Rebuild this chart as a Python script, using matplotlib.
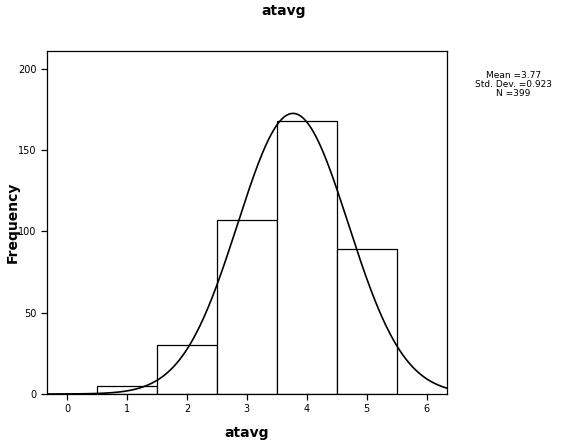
import matplotlib.pyplot as plt
import numpy as np

# bin centres and counts
centers = [1, 2, 3, 4, 5]
counts = [5, 30, 107, 168, 89]
mean = 3.77
std = 0.923
n = 399

fig = plt.figure(figsize=(5.67, 4.45), dpi=100)
ax = fig.add_axes([0.0829, 0.1146, 0.7055, 0.7708])

ax.bar(centers, counts, width=1.0, color="white", edgecolor="black", linewidth=0.9)

xs = np.linspace(-0.34, 6.34, 400)
ys = n * 1.0 / (std * np.sqrt(2 * np.pi)) * np.exp(-0.5 * ((xs - mean) / std) ** 2)
ax.plot(xs, ys, color="black", linewidth=1.2)

ax.set_xlim(-0.334, 6.34)
ax.set_ylim(0, 210.8)
ax.set_xticks(range(0, 7))
ax.set_yticks([0, 50, 100, 150, 200])
ax.tick_params(labelsize=7, length=4, width=0.9, direction="out")
for s in ax.spines.values():
    s.set_linewidth(0.9)

ax.set_xlabel("atavg", fontsize=10, fontweight="bold", labelpad=8)
fig.text(0.022, 0.50, "Frequency", rotation=90, ha="center", va="center",
         fontsize=10, fontweight="bold")
fig.text(0.5, 0.99, "atavg", ha="center", va="top", fontsize=10, fontweight="bold")

fig.text(0.905, 0.84, f"Mean ={mean}\nStd. Dev. ={std}\nN ={n}",
         ha="center", va="top", fontsize=6.5, linespacing=0.95)

fig.savefig("out.png", dpi=100)
